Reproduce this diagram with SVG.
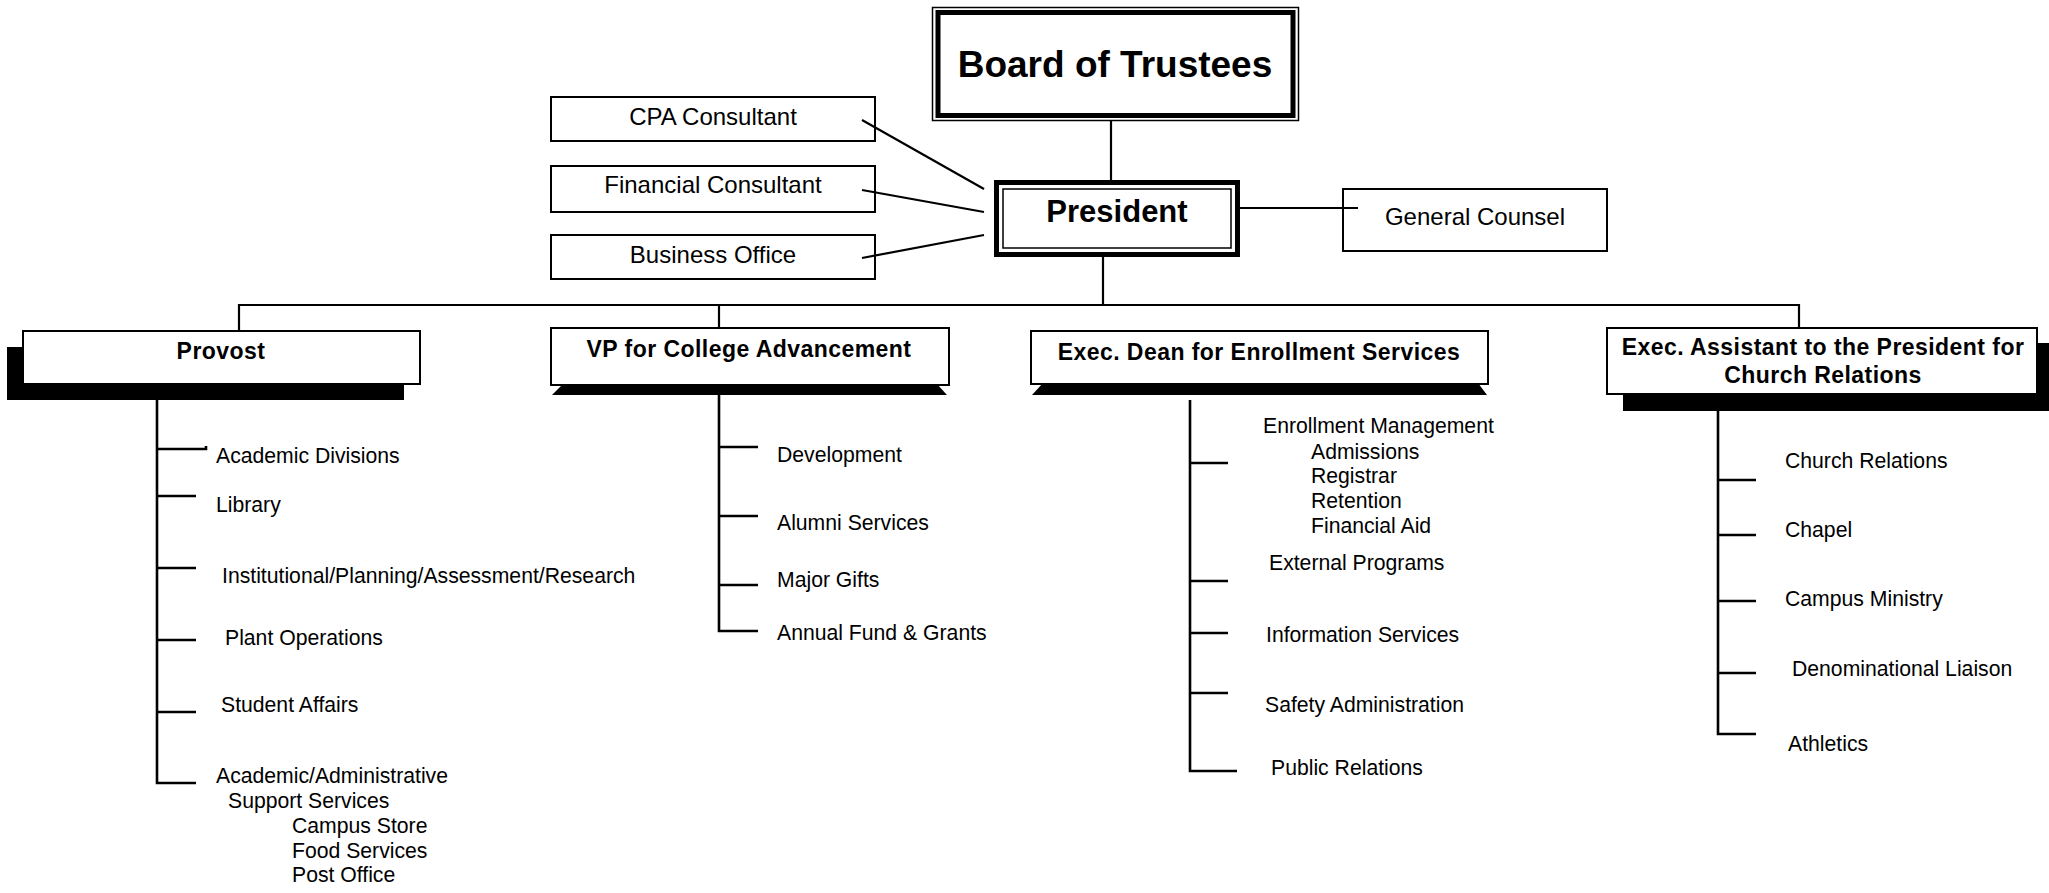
<svg xmlns="http://www.w3.org/2000/svg" width="2049" height="893" viewBox="0 0 2049 893">
<style>
.bg{fill:#fff}
.box{fill:#fff;stroke:#000;stroke-width:2}
.shadow{fill:#000}
.ln{fill:none;stroke:#000;stroke-width:2.2}
.br{fill:none;stroke:#000;stroke-width:2.6}
.t{font-family:"Liberation Sans",Arial,sans-serif;fill:#000}
.bx{font-size:24px;text-anchor:middle}
.hd{font-size:23px;font-weight:bold;text-anchor:middle;letter-spacing:0.45px}
.it{font-size:21.2px}
</style>
<rect class="bg" x="0" y="0" width="2049" height="893"/>

<g id="board">
<rect x="932.5" y="7.5" width="366" height="113" fill="#fff" stroke="#000" stroke-width="1.5"/>
<rect x="938" y="12.5" width="355" height="103" fill="none" stroke="#000" stroke-width="5"/>
<text class="t" x="1115" y="77" font-size="37" font-weight="bold" text-anchor="middle">Board of Trustees</text>
</g>

<g id="president">
<rect x="996.5" y="182.5" width="241" height="72" fill="#fff" stroke="#000" stroke-width="5"/>
<rect x="1003" y="189" width="228" height="59" fill="none" stroke="#000" stroke-width="1.5"/>
<text class="t" x="1117" y="222" font-size="31" font-weight="bold" text-anchor="middle">President</text>
</g>

<g id="cpa">
<rect class="box" x="551" y="97" width="324" height="44"/>
<text class="t bx" x="713" y="125">CPA Consultant</text>
</g>
<g id="financial">
<rect class="box" x="551" y="166" width="324" height="46"/>
<text class="t bx" x="713" y="193">Financial Consultant</text>
</g>
<g id="business">
<rect class="box" x="551" y="235" width="324" height="44"/>
<text class="t bx" x="713" y="263">Business Office</text>
</g>
<g id="counsel">
<rect class="box" x="1343" y="189" width="264" height="62"/>
<text class="t bx" x="1475" y="225">General Counsel</text>
</g>

<g id="provost">
<rect class="shadow" x="7" y="347" width="397" height="53"/>
<rect class="box" x="23" y="331" width="397" height="53"/>
<text class="t hd" x="221" y="359">Provost</text>
</g>

<g id="vp">
<polygon class="shadow" points="563,384 937,384 947,395 552,395"/>
<rect class="box" x="551" y="328" width="398" height="57"/>
<text class="t hd" x="749" y="357">VP for College Advancement</text>
</g>

<g id="dean">
<polygon class="shadow" points="1043,383 1478,383 1487,395 1032,395"/>
<rect class="box" x="1031" y="331" width="457" height="53"/>
<text class="t hd" x="1259" y="360">Exec. Dean for Enrollment Services</text>
</g>

<g id="assistant">
<rect class="shadow" x="1623" y="343" width="426" height="68"/>
<rect class="box" x="1607" y="328" width="430" height="66"/>
<text class="t hd" x="1823" y="355" font-size="24" letter-spacing="0.6">Exec. Assistant to the President for</text>
<text class="t hd" x="1823" y="383" font-size="24" letter-spacing="0.6">Church Relations</text>
</g>

<g id="provost-units" class="t it">
<text x="216" y="463">Academic Divisions</text>
<text x="216" y="512">Library</text>
<text x="222" y="583">Institutional/Planning/Assessment/Research</text>
<text x="225" y="645">Plant Operations</text>
<text x="221" y="712">Student Affairs</text>
<text x="216" y="783">Academic/Administrative</text>
<text x="228" y="808">Support Services</text>
<text x="292" y="833">Campus Store</text>
<text x="292" y="858">Food Services</text>
<text x="292" y="882">Post Office</text>
</g>

<g id="vp-units" class="t it">
<text x="777" y="462">Development</text>
<text x="777" y="530">Alumni Services</text>
<text x="777" y="587">Major Gifts</text>
<text x="777" y="640">Annual Fund &amp; Grants</text>
</g>

<g id="dean-units" class="t it">
<text x="1263" y="433">Enrollment Management</text>
<text x="1311" y="459">Admissions</text>
<text x="1311" y="483">Registrar</text>
<text x="1311" y="508">Retention</text>
<text x="1311" y="533">Financial Aid</text>
<text x="1269" y="570">External Programs</text>
<text x="1266" y="642">Information Services</text>
<text x="1265" y="712">Safety Administration</text>
<text x="1271" y="775">Public Relations</text>
</g>

<g id="assistant-units" class="t it">
<text x="1785" y="468">Church Relations</text>
<text x="1785" y="537">Chapel</text>
<text x="1785" y="606">Campus Ministry</text>
<text x="1792" y="676">Denominational Liaison</text>
<text x="1788" y="751">Athletics</text>
</g>

<g id="connectors">
<path class="ln" d="M1111,121 V180"/>
<path class="ln" d="M862,120 L984,189"/>
<path class="ln" d="M862,190 L984,212"/>
<path class="ln" d="M862,258 L984,235"/>
<path class="ln" d="M1240,208 H1358"/>
<path class="ln" d="M1103,257 V305"/>
<path class="ln" d="M239,331 V305 H1799 V328"/>
<path class="ln" d="M719,305 V328"/>
<path class="br" d="M157,400 V783 H196"/>
<path class="br" d="M157,449 H206 V446"/>
<path class="br" d="M157,496 H196 M157,568 H196 M157,640 H196 M157,712 H196"/>
<path class="br" d="M719,395 V631 H758"/>
<path class="br" d="M719,447 H758 M719,516 H758 M719,585 H758"/>
<path class="br" d="M1190,400 V771 H1237"/>
<path class="br" d="M1190,463 H1228 M1190,581 H1228 M1190,633 H1228 M1190,693 H1228"/>
<path class="br" d="M1718,411 V734 H1756"/>
<path class="br" d="M1718,480 H1756 M1718,535 H1756 M1718,601 H1756 M1718,673 H1756"/>
</g>
</svg>
